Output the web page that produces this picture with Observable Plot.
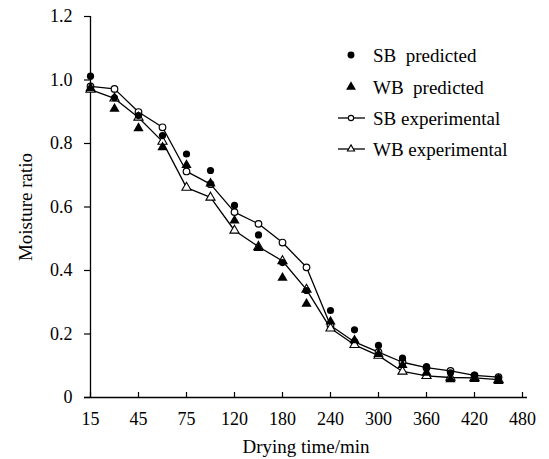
<!DOCTYPE html>
<html>
<head>
<meta charset="utf-8">
<script src="https://cdn.jsdelivr.net/npm/d3@7"></script>
<script src="https://cdn.jsdelivr.net/npm/@observablehq/plot@0.6"></script>
<style>
  body { margin: 0; background: #fff; }
  #wrap { position: relative; width: 549px; height: 459px; font-family: 'Liberation Serif', 'Times New Roman', serif; }
</style>
</head>
<body>
<div id="wrap"></div>
<script>
const times = [15, 30, 45, 60, 75, 90, 120, 150, 180, 210, 240, 270, 300, 330, 360, 390, 420, 450, 480];
const tickTimes = [15, 45, 75, 120, 180, 240, 300, 360, 420, 480];
const yTicks = [0, 0.2, 0.4, 0.6, 0.8, 1.0, 1.2];
const dataTimes = [15, 30, 45, 60, 75, 90, 120, 150, 180, 210, 240, 270, 300, 330, 360, 390, 420, 450];
const sbPredicted = [1.012, 0.944, 0.888, 0.825, 0.767, 0.715, 0.605, 0.512, 0.425, 0.337, 0.274, 0.213, 0.164, 0.124, 0.097, 0.078, 0.070, 0.060];
const wbPredicted = [0.975, 0.909, 0.848, 0.788, 0.732, 0.674, 0.557, 0.471, 0.377, 0.295, 0.239, 0.180, 0.137, 0.102, 0.078, 0.057, 0.058, 0.052];
const sbExperimental = [0.980, 0.972, 0.899, 0.851, 0.712, 0.672, 0.584, 0.547, 0.488, 0.410, 0.227, 0.175, 0.143, 0.111, 0.094, 0.084, 0.070, 0.064];
const wbExperimental = [0.970, 0.942, 0.882, 0.806, 0.661, 0.630, 0.526, 0.475, 0.430, 0.340, 0.218, 0.166, 0.132, 0.082, 0.068, 0.063, 0.062, 0.056];
const seriesNames = ["SB  predicted", "WB  predicted", "SB experimental", "WB experimental"];

const rows = (vals) => dataTimes.map((t, i) => ({t, v: vals[i]}));
const sbP = rows(sbPredicted), wbP = rows(wbPredicted), sbE = rows(sbExperimental), wbE = rows(wbExperimental);

const font = "'Liberation Serif', 'Times New Roman', serif";
const chart = Plot.plot({
  width: 549,
  height: 459,
  marginLeft: 84,
  marginRight: 22,
  marginTop: 16,
  marginBottom: 62,
  style: {fontFamily: font, fontSize: "18px", color: "#000", background: "#fff"},
  x: {type: "point", domain: times, padding: 0},
  y: {domain: [0, 1.2]},
  marks: [
    Plot.ruleY([0], {stroke: "#000", strokeWidth: 1.3}),
    Plot.ruleX([15], {y1: 0, y2: 1.2, stroke: "#000", strokeWidth: 1.3}),
    Plot.axisX({ticks: tickTimes, tickSize: -5, tickPadding: 20, tickFormat: d => String(d), fontSize: 18, stroke: "#000", strokeWidth: 1.2,
      label: "Drying time/min", labelAnchor: "center", labelArrow: "none", labelOffset: 55}),
    Plot.axisY({ticks: yTicks, tickSize: -6, tickPadding: 18, tickFormat: d => d === 0 ? "0" : d.toFixed(1), fontSize: 18, stroke: "#000", strokeWidth: 1.2,
      label: "Moisture ratio", labelAnchor: "center", labelArrow: "none", labelOffset: 66}),
    Plot.line(sbE, {x: "t", y: "v", stroke: "#000", strokeWidth: 1.3}),
    Plot.line(wbE, {x: "t", y: "v", stroke: "#000", strokeWidth: 1.3}),
    Plot.dot(sbE, {x: "t", y: "v", r: 3.3, fill: "#fff", stroke: "#000", strokeWidth: 1.2}),
    Plot.dot(wbE, {x: "t", y: "v", symbol: "triangle", r: 3.4, fill: "#fff", stroke: "#000", strokeWidth: 1.1}),
    Plot.dot(sbP, {x: "t", y: "v", r: 3.6, fill: "#000"}),
    Plot.dot(wbP, {x: "t", y: "v", symbol: "triangle", r: 3.8, fill: "#000"})
  ]
});
// force serif font on all texts (axis labels, ticks)
chart.querySelectorAll("text").forEach(t => {
  t.style.fontFamily = font;
  t.style.fill = "#000";
});
chart.querySelectorAll("g[aria-label='x-axis label'] text, g[aria-label='y-axis label'] text").forEach(t => {
  t.style.fontSize = "19px";
});
const wrap = document.getElementById("wrap");
wrap.appendChild(chart);

// legend
const leg = d3.select(wrap).append("svg").attr("width", 549).attr("height", 459)
  .style("position", "absolute").style("left", "0px").style("top", "0px");
const ly = [55, 87, 118, 149];
const lx = 351;
seriesNames.forEach((name, i) => {
  const g = leg.append("g").attr("transform", `translate(${lx},${ly[i]})`);
  if (i >= 2) g.append("line").attr("x1", -13).attr("x2", 14).attr("stroke", "#000").attr("stroke-width", 1.3);
  const sym = (i % 2 === 0) ? d3.symbolCircle : d3.symbolTriangle;
  const size = i < 2 ? (i === 0 ? 38 : 42) : 22;
  g.append("path").attr("d", d3.symbol(sym, size)())
    .attr("fill", i < 2 ? "#000" : "#fff").attr("stroke", i < 2 ? "none" : "#000").attr("stroke-width", 1.1);
  g.append("text").attr("x", 22).attr("dy", "0.35em").attr("font-size", 19)
    .style("font-family", font).style("white-space", "pre").attr("xml:space", "preserve").text(name);
});
</script>
</body>
</html>
